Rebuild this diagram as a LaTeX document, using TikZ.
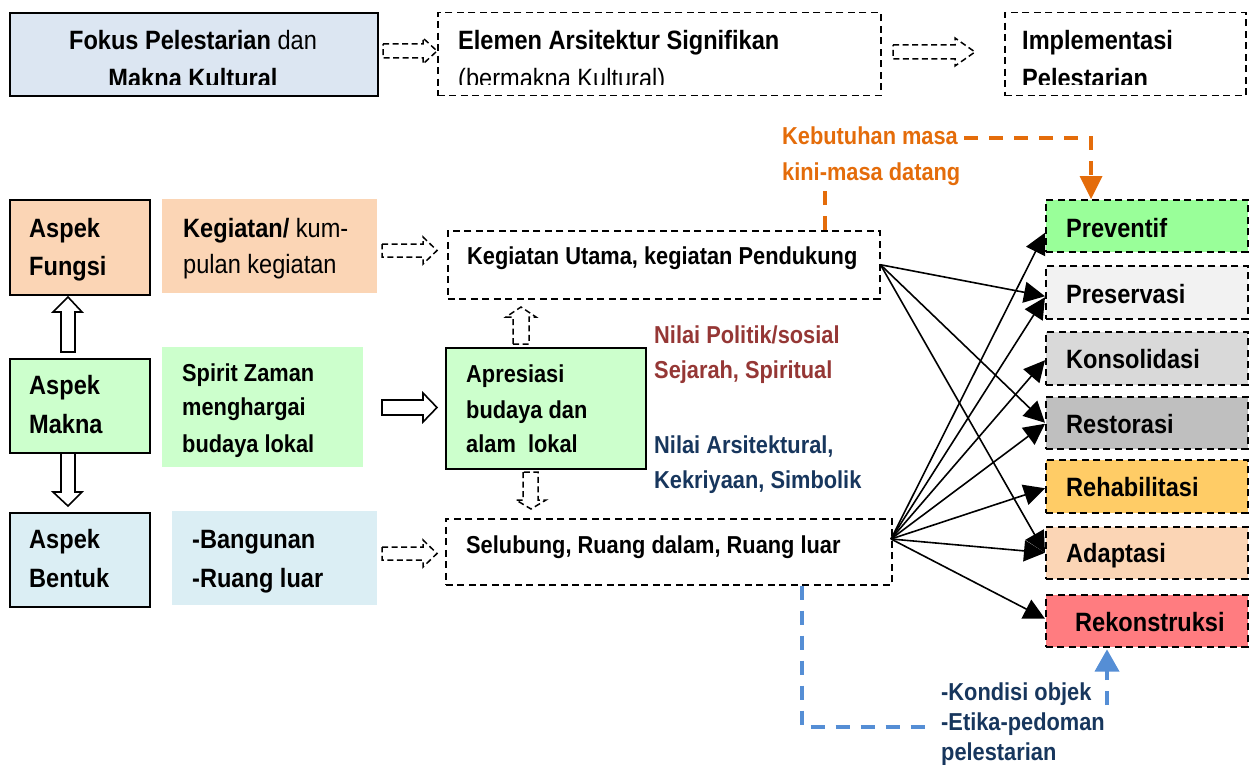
\documentclass[tikz,border=0pt]{standalone}
\usepackage{fontspec}
\setmainfont{Liberation Sans}[FakeStretch=0.89]
\usetikzlibrary{arrows.meta,calc}
\definecolor{cFokus}{HTML}{DCE6F2}
\definecolor{cPeach}{HTML}{FBD5B5}
\definecolor{cGreen}{HTML}{CCFFCC}
\definecolor{cLBlue}{HTML}{DBEEF4}
\definecolor{cPrev}{HTML}{99FF99}
\definecolor{cPres}{HTML}{F2F2F2}
\definecolor{cKons}{HTML}{D9D9D9}
\definecolor{cRest}{HTML}{BFBFBF}
\definecolor{cReha}{HTML}{FFCC66}
\definecolor{cReko}{HTML}{FF7C80}
\definecolor{tRed}{HTML}{953735}
\definecolor{tBlue}{HTML}{17365D}
\definecolor{tOrange}{HTML}{E46C0A}
\definecolor{lBlue}{HTML}{558ED5}
\tikzset{
 sbox/.style={draw=black, line width=1.8pt, anchor=north west, inner sep=0},
 dbox/.style={draw=black, line width=1.5pt, dash pattern=on 7pt off 4.5pt, anchor=north west, inner sep=0},
 pbox/.style={anchor=north west, inner sep=0},
 lbl/.style={anchor=base west, inner sep=0},
 big/.style={font=\fontsize{26.5}{38}\selectfont\bfseries},
 mid/.style={font=\fontsize{24.5}{36}\selectfont\bfseries},
 blk/.style={draw, line width=1.6pt, fill=white, line join=miter},
 dblk/.style={draw, line width=1.5pt, dash pattern=on 6pt off 3.5pt},
 conn/.style={line width=1.6pt, -{Triangle[length=21pt,width=21pt]}},
 orl/.style={draw=tOrange, line width=3.5pt, dash pattern=on 14pt off 11pt},
 bll/.style={draw=lBlue, line width=3.5pt, dash pattern=on 14pt off 11pt},
}
\begin{document}
\begin{tikzpicture}[x=1pt,y=-1pt]
\useasboundingbox (0,0) rectangle (1253,765);
% top row
\node[sbox, fill=cFokus, minimum width=368, minimum height=83] (fokus) at (9,12) {};
\node[dbox, minimum width=443, minimum height=83] (elem) at (437,12) {};
\node[dbox, minimum width=241, minimum height=83] (impl) at (1004,12) {};
\begin{scope}
\clip (9,13) rectangle (1250,85);
\node[big, anchor=base, inner sep=0] (fokA) at (193,50) {Fokus Pelestarian \mdseries dan};
\node[big, anchor=base, inner sep=0] (fokB) at (193,88) {Makna Kultural};
\node[big, lbl] (elA) at (458,50) {Elemen Arsitektur Signifikan};
\node[big, lbl] (elB) at (458,88) {\mdseries (bermakna Kultural)};
\node[big, lbl] (imA) at (1022,50) {Implementasi};
\node[big, lbl] (imB) at (1022,88) {Pelestarian};
\end{scope}
\draw[dblk] (383,44) -- (423,44) -- (423,38) -- (437,51) -- (423,64) -- (423,58) -- (383,58) -- cycle;
\draw[dblk] (893,45) -- (955,45) -- (955,38) -- (975,52) -- (955,66) -- (955,59) -- (893,59) -- cycle;
% left column
\node[sbox, fill=cPeach, minimum width=140, minimum height=95] (fun) at (9,199) {};
\node[pbox, fill=cPeach, minimum width=215, minimum height=94] (keg) at (162,199) {};
\node[sbox, fill=cGreen, minimum width=140, minimum height=94] (mak) at (9,358) {};
\node[pbox, fill=cGreen, minimum width=201, minimum height=120] (spi) at (162,347) {};
\node[sbox, fill=cLBlue, minimum width=140, minimum height=94] (ben) at (9,512) {};
\node[pbox, fill=cLBlue, minimum width=205, minimum height=94] (ban) at (172,511) {};
\node[big, lbl] (funA) at (29,237) {Aspek};
\node[big, lbl] (funB) at (29,275) {Fungsi};
\node[big, lbl] (makA) at (29,394) {Aspek};
\node[big, lbl] (makB) at (29,433) {Makna};
\node[big, lbl] (benA) at (29,548) {Aspek};
\node[big, lbl] (benB) at (29,587) {Bentuk};
\node[big, lbl] (kegA) at (183,237) {Kegiatan/ \mdseries kum-};
\node[big, lbl] (kegB) at (183,273) {\mdseries pulan kegiatan};
\node[mid, lbl] (spiA) at (182,381) {Spirit Zaman};
\node[mid, lbl] (spiB) at (182,415) {menghargai};
\node[mid, lbl] (spiC) at (182,452) {budaya lokal};
\node[big, lbl] (banA) at (192,548) {-Bangunan};
\node[big, lbl] (banB) at (192,587) {-Ruang luar};
% block arrows left
\draw[blk] (61,352) -- (61,312) -- (53,312) -- (68,297) -- (82,312) -- (75,312) -- (75,352) -- cycle;
\draw[blk] (61,453) -- (61,492) -- (53,492) -- (68,506) -- (82,492) -- (75,492) -- (75,453) -- cycle;
\draw[blk] (382,400) -- (423,400) -- (423,393) -- (437,407.5) -- (423,422) -- (423,415) -- (382,415) -- cycle;
\draw[dblk] (382,244) -- (423,244) -- (423,237) -- (437,250.5) -- (423,264) -- (423,257) -- (382,257) -- cycle;
\draw[dblk] (382,547) -- (423,547) -- (423,540) -- (437,553.5) -- (423,567) -- (423,560) -- (382,560) -- cycle;
% middle
\node[dbox, minimum width=432, minimum height=68] (ku) at (447,230) {};
\node[sbox, fill=cGreen, minimum width=200, minimum height=121] (apr) at (445,347) {};
\node[dbox, minimum width=446, minimum height=66] (sel) at (445,518) {};
\node[mid, lbl] (kuT) at (467,264) {Kegiatan Utama, kegiatan Pendukung};
\node[mid, lbl] (aprA) at (466,382) {Apresiasi};
\node[mid, lbl] (aprB) at (466,418) {budaya dan};
\node[mid, lbl] (aprC) at (466,452) {alam\ \ lokal};
\node[mid, lbl] (selT) at (466,553) {Selubung, Ruang dalam, Ruang luar};
\draw[dblk] (513,344) -- (513,317) -- (506,317) -- (521,307) -- (536,317) -- (529,317) -- (529,344) -- cycle;
\draw[dblk] (523,472) -- (523,500) -- (516,500) -- (531,509) -- (546,500) -- (538,500) -- (538,472) -- cycle;
\node[mid, lbl, text=tRed] (nA) at (654,343) {Nilai Politik/sosial};
\node[mid, lbl, text=tRed] (nB) at (654,378) {Sejarah, Spiritual};
\node[mid, lbl, text=tBlue] (nC) at (654,453) {Nilai Arsitektural,};
\node[mid, lbl, text=tBlue] (nD) at (654,488) {Kekriyaan, Simbolik};
\node[mid, lbl, text=tOrange] (kbA) at (782,145) {Kebutuhan masa};
\node[mid, lbl, text=tOrange] (kbB) at (782,180) {kini-masa datang};
\node[mid, lbl, text=tBlue] (kdA) at (941,700) {-Kondisi objek};
\node[mid, lbl, text=tBlue] (kdB) at (941,730) {-Etika-pedoman};
\node[mid, lbl, text=tBlue] (kdC) at (941,760) {pelestarian};
% right column
\node[dbox, fill=cPrev, minimum width=202, minimum height=52] (pv) at (1045,199) {};
\node[dbox, fill=cPres, minimum width=202, minimum height=53] (ps) at (1045,265) {};
\node[dbox, fill=cKons, minimum width=202, minimum height=53] (ko) at (1045,331) {};
\node[dbox, fill=cRest, minimum width=202, minimum height=52] (re) at (1045,396) {};
\node[dbox, fill=cReha, minimum width=202, minimum height=53] (rh) at (1045,459) {};
\node[dbox, fill=cPeach, minimum width=202, minimum height=52] (ad) at (1045,526) {};
\node[dbox, fill=cReko, minimum width=202, minimum height=52] (rk) at (1045,594) {};
\node[big, lbl] (pvT) at (1066,237) {Preventif};
\node[big, lbl] (psT) at (1066,303) {Preservasi};
\node[big, lbl] (koT) at (1066,368) {Konsolidasi};
\node[big, lbl] (reT) at (1066,433) {Restorasi};
\node[big, lbl] (rhT) at (1066,496) {Rehabilitasi};
\node[big, lbl] (adT) at (1066,562) {Adaptasi};
\node[big, lbl] (rkT) at (1075,631) {Rekonstruksi};
% connectors
\coordinate (selo) at (891,539);
\draw[conn] (ku.east) -- ([yshift=-4pt]ps.west);
\draw[conn] (ku.east) -- (re.west);
\draw[conn] (ku.east) -- (ad.west);
\draw[conn] (selo) -- ([yshift=-7pt]pv.west);
\draw[conn] (selo) -- ([yshift=-5pt]ps.west);
\draw[conn] (selo) -- ([yshift=-2pt]ko.west);
\draw[conn] (selo) -- ([yshift=-1pt]re.west);
\draw[conn] (selo) -- ([yshift=-2pt]rh.west);
\draw[conn] (selo) -- (ad.west);
\draw[conn] (selo) -- ([yshift=2pt]rk.west);
% orange
\coordinate (o1) at (825,185);
\coordinate (o2) at (964,138);
\coordinate (o3) at (1091,138);
\draw[orl] (o1 |- ku.north) -- (o1);
\draw[orl] (o2) -- (o3) -- ([yshift=20pt]o3 |- pv.north);
\fill[tOrange] ([xshift=-11.5pt,yshift=23pt]o3 |- pv.north) -- (o3 |- pv.north) -- ([xshift=11.5pt,yshift=23pt]o3 |- pv.north) -- cycle;
% blue
\coordinate (b1) at (802,727);
\coordinate (b2) at (925,727);
\coordinate (b3) at (1107,705);
\draw[bll] (b1 |- sel.south) -- (b1) -- (b2);
\draw[bll] (b3) -- ([yshift=-22pt]b3 |- rk.south);
\fill[lBlue] ([xshift=-12.5pt,yshift=-24pt]b3 |- rk.south) -- ([yshift=-2pt]b3 |- rk.south) -- ([xshift=12.5pt,yshift=-24pt]b3 |- rk.south) -- cycle;
\end{tikzpicture}
\end{document}
